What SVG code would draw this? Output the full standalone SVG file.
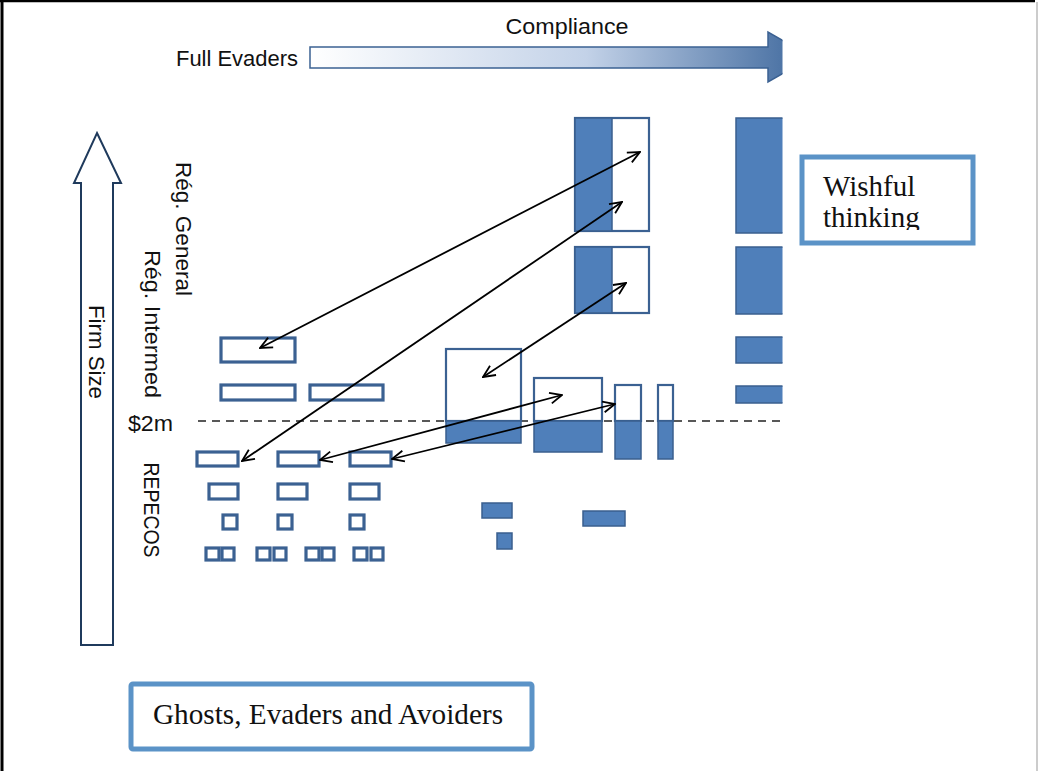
<svg xmlns="http://www.w3.org/2000/svg" width="1038" height="771" viewBox="0 0 1038 771">
<style>
.sans{font-family:"Liberation Sans",Arial,sans-serif;font-size:22px;fill:#111}
.serif{font-family:"Liberation Serif","Times New Roman",serif;font-size:29px;fill:#111}
.ob{fill:#fff;stroke:#3b6192;stroke-width:3.2}
.fb{fill:#4f7fba;stroke:#3a5f8e;stroke-width:1.5}
.wb{fill:#fff;stroke:#3b6192;stroke-width:2.2}
.lab{fill:#fff;stroke:#5b93c7;stroke-width:5}
.con{stroke:#000;stroke-width:1.8;fill:none;marker-start:url(#ah);marker-end:url(#ah)}
</style>
<defs>
<linearGradient id="g1" x1="0" y1="0" x2="1" y2="0">
<stop offset="0" stop-color="#ffffff"/>
<stop offset="0.55" stop-color="#c3d2e8"/>
<stop offset="1" stop-color="#3d679c"/>
</linearGradient>
<marker id="ah" viewBox="0 0 14 14" refX="13" refY="7" markerWidth="14" markerHeight="14" markerUnits="userSpaceOnUse" orient="auto-start-reverse">
<path d="M1,1.5 L13,7 L1,12.5" fill="none" stroke="#000" stroke-width="1.8"/>
</marker>
<clipPath id="clipR"><rect x="0" y="0" width="782.5" height="771"/></clipPath>
<clipPath id="clipW"><rect x="805" y="160" width="165" height="70"/></clipPath>
</defs>
<rect x="0" y="0" width="1038" height="771" fill="#fff"/>
<g id="frame">
<line x1="2" y1="0" x2="2" y2="771" stroke="#000" stroke-width="3"/>
<line x1="0" y1="1" x2="1035" y2="1" stroke="#000" stroke-width="2.5"/>
<line x1="1037" y1="2" x2="1037" y2="771" stroke="#bbb" stroke-width="1.5"/>
</g>
<g id="compliance-axis">
<polygon points="310,47 768,47 768,32 812,57 768,82 768,68 310,68" fill="url(#g1)" stroke="#3b6192" stroke-width="1.5" clip-path="url(#clipR)"/>
<text class="sans" x="567" y="34" text-anchor="middle" textLength="123" lengthAdjust="spacingAndGlyphs">Compliance</text>
<text class="sans" x="176" y="66" textLength="122" lengthAdjust="spacingAndGlyphs">Full Evaders</text>
</g>
<g id="firm-size-axis">
<polygon points="97,133 121,183 113,183 113,645 81,645 81,183 74,183" fill="#fff" stroke="#1f3a5c" stroke-width="2"/>
<text class="sans" transform="translate(97,352) rotate(90)" x="0" y="8" text-anchor="middle" textLength="94" lengthAdjust="spacingAndGlyphs">Firm Size</text>
</g>
<g id="labels">
<text class="sans" transform="translate(184,229) rotate(90)" x="0" y="8" text-anchor="middle" textLength="134" lengthAdjust="spacingAndGlyphs">Rég. General</text>
<text class="sans" transform="translate(153,324) rotate(90)" x="0" y="8" text-anchor="middle" textLength="148" lengthAdjust="spacingAndGlyphs">Rég. Intermed</text>
<text class="sans" transform="translate(152,510) rotate(90)" x="0" y="8" text-anchor="middle" textLength="95" lengthAdjust="spacingAndGlyphs">REPECOS</text>
<text class="sans" x="128" y="431" textLength="45" lengthAdjust="spacingAndGlyphs">$2m</text>
</g>
<g id="threshold">
<line x1="198" y1="421" x2="780" y2="421" stroke="#222" stroke-width="1.6" stroke-dasharray="8,6"/>
</g>
<g id="left-boxes">
<rect class="ob" x="221" y="338" width="74" height="24"/>
<rect class="ob" x="221" y="385" width="74" height="15"/>
<rect class="ob" x="310" y="385" width="73" height="15"/>
<rect class="ob" x="197" y="452" width="41" height="14"/>
<rect class="ob" x="278" y="452" width="41" height="14"/>
<rect class="ob" x="350" y="452" width="41" height="14"/>
<rect class="ob" x="209" y="484" width="29" height="15"/>
<rect class="ob" x="278" y="484" width="29" height="15"/>
<rect class="ob" x="350" y="484" width="29" height="15"/>
<rect class="ob" x="223" y="515" width="14" height="14"/>
<rect class="ob" x="278" y="515" width="14" height="14"/>
<rect class="ob" x="350" y="515" width="14" height="14"/>
<rect class="ob" x="206" y="548" width="13" height="12"/>
<rect class="ob" x="222" y="548" width="12" height="12"/>
<rect class="ob" x="257" y="548" width="13" height="12"/>
<rect class="ob" x="274" y="548" width="12" height="12"/>
<rect class="ob" x="306" y="548" width="13" height="12"/>
<rect class="ob" x="322" y="548" width="12" height="12"/>
<rect class="ob" x="354" y="548" width="13" height="12"/>
<rect class="ob" x="371" y="548" width="12" height="12"/>
</g>
<g id="mid-boxes">
<rect class="wb" x="446" y="349" width="75" height="72"/>
<rect class="fb" x="446" y="421" width="75" height="22"/>
<rect class="wb" x="534" y="378" width="68" height="43"/>
<rect class="fb" x="534" y="421" width="68" height="31"/>
<rect class="wb" x="615" y="385" width="26" height="36"/>
<rect class="fb" x="615" y="421" width="26" height="38"/>
<rect class="wb" x="658" y="385" width="15" height="36"/>
<rect class="fb" x="658" y="421" width="15" height="38"/>
<rect class="fb" x="482" y="503" width="30" height="15"/>
<rect class="fb" x="583" y="511" width="42" height="15"/>
<rect class="fb" x="497" y="533" width="15" height="16"/>
</g>
<g id="reg-boxes">
<rect class="wb" x="575" y="118" width="74" height="113"/>
<rect class="fb" x="575" y="118" width="37" height="113"/>
<rect class="wb" x="575" y="247" width="74" height="66"/>
<rect class="fb" x="575" y="247" width="37" height="66"/>
</g>
<g id="compliant-column" clip-path="url(#clipR)">
<rect class="fb" x="736" y="118" width="60" height="115"/>
<rect class="fb" x="736" y="247" width="60" height="67"/>
<rect class="fb" x="736" y="337" width="60" height="26"/>
<rect class="fb" x="736" y="386" width="60" height="17"/>
</g>
<g id="connectors">
<line class="con" x1="260" y1="348" x2="640" y2="152"/>
<line class="con" x1="242" y1="461" x2="622" y2="202"/>
<line class="con" x1="483" y1="377" x2="626" y2="283"/>
<line class="con" x1="320" y1="460" x2="562" y2="395"/>
<line class="con" x1="392" y1="459" x2="615" y2="404"/>
</g>
<g id="wishful">
<rect class="lab" x="802" y="157" width="171" height="86"/>
<g clip-path="url(#clipW)">
<text class="serif" x="823" y="196">Wishful</text>
<text class="serif" x="823" y="227">thinking</text>
</g>
</g>
<g id="ghosts">
<rect class="lab" x="131" y="684" width="401" height="65" rx="2"/>
<text class="serif" x="153" y="724" textLength="350" lengthAdjust="spacingAndGlyphs">Ghosts, Evaders and Avoiders</text>
</g>
</svg>
